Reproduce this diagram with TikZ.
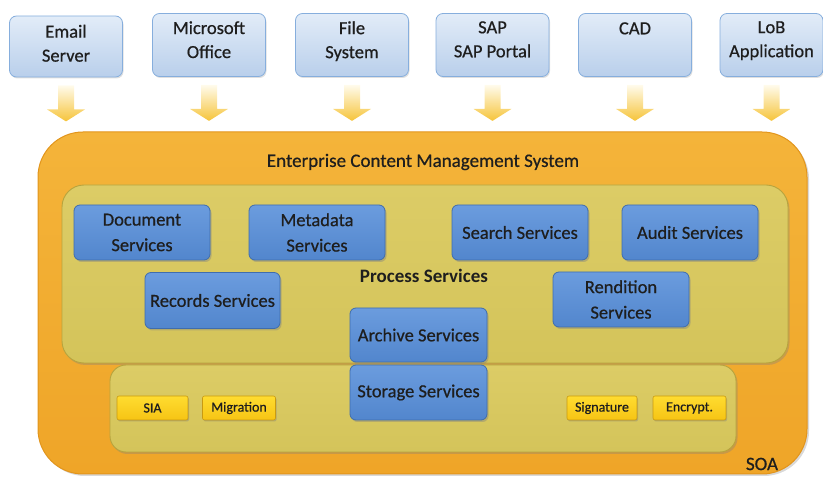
\documentclass[tikz,border=0pt]{standalone}
\usepackage{fontspec}
\setmainfont{Carlito}[UprightFeatures={FakeBold=0.6}]
\usetikzlibrary{shadows,calc}

\definecolor{srctop}{HTML}{E2ECF8}
\definecolor{srcbot}{HTML}{B9CFEB}
\definecolor{srcline}{HTML}{86AEDD}
\definecolor{arrtop}{HTML}{FFFBEC}
\definecolor{arrbot}{HTML}{F6C43A}
\definecolor{ecmfill}{HTML}{EFA528}
\definecolor{ecmtop}{HTML}{F4B43A}
\definecolor{ecmline}{HTML}{E2951C}
\definecolor{panelfill}{HTML}{D4C45A}
\definecolor{paneltop}{HTML}{DCCC66}
\definecolor{panelline}{HTML}{B7A43E}
\definecolor{svctop}{HTML}{6B9CDE}
\definecolor{svcbot}{HTML}{5286CD}
\definecolor{svcline}{HTML}{3F6DAE}
\definecolor{tooltop}{HTML}{FFDC30}
\definecolor{toolbot}{HTML}{F6C414}
\definecolor{toolline}{HTML}{C99A10}
\definecolor{ink}{HTML}{1E1E1E}

\newcommand{\ecmarrow}[1]{%
  \shade[top color=arrtop, bottom color=arrbot]
    ($(#1.south)+(-8,8)$) -- ($(#1.south)+(8,8)$) -- ($(#1.south)+(8,32)$)
    -- ($(#1.south)+(19,32)$) -- ($(#1.south)+(0,44)$) -- ($(#1.south)+(-19,32)$)
    -- ($(#1.south)+(-8,32)$) -- cycle;}

\begin{document}
\begin{tikzpicture}[x=1pt,y=-1pt,
  every node/.style={text=ink},
  source/.style={draw=srcline, line width=0.8pt, rounded corners=7pt,
    top color=srctop, bottom color=srcbot, minimum width=113pt, minimum height=63pt,
    drop shadow={shadow xshift=1pt, shadow yshift=-1.5pt, opacity=0.25}},
  srclabel/.style={anchor=north, align=center, font=\fontsize{18.5}{24}\selectfont, inner sep=0pt},
  ecmbox/.style={draw=ecmline, line width=1pt, rounded corners=45pt,
    top color=ecmtop, bottom color=ecmfill, minimum width=769pt, minimum height=342pt,
    drop shadow={shadow xshift=2pt, shadow yshift=-2pt, opacity=0.3}},
  panel/.style={draw=panelline, line width=0.9pt, top color=paneltop, bottom color=panelfill,
    drop shadow={shadow xshift=1.5pt, shadow yshift=-2pt, opacity=0.35}},
  service/.style={draw=svcline, line width=0.8pt, rounded corners=6pt,
    top color=svctop, bottom color=svcbot, align=center,
    font=\fontsize{18.5}{25.5}\selectfont, minimum width=136pt, minimum height=55pt,
    drop shadow={shadow xshift=1.5pt, shadow yshift=-2pt, opacity=0.4}},
  tool/.style={draw=toolline, line width=0.6pt, rounded corners=2pt,
    top color=tooltop, bottom color=toolbot, font=\fontsize{14}{16}\selectfont,
    minimum height=24pt, inner sep=0pt,
    drop shadow={shadow xshift=1pt, shadow yshift=-1.5pt, opacity=0.4}}
]
\useasboundingbox (0,0) rectangle (823,478);

% source systems along the top
\node[source, minimum height=61pt] (email) at (66,46.5) {};
\node[source] (office) at (209,45) {};
\node[source] (files)  at (352,45) {};
\node[source] (sap)    at (492.5,45) {};
\node[source] (cad)    at (635,45) {};
\node[source, minimum width=103pt] (lob) at (771.5,45) {};

\node[srclabel] (emailtxt)  at ($(email.north)+(0,9)$)  {Email\\Server};
\node[srclabel] (officetxt) at ($(office.north)+(0,8)$) {Microsoft\\Office};
\node[srclabel] (filestxt)  at ($(files.north)+(0,8)$)  {File\\System};
\node[srclabel] (saptxt)    at ($(sap.north)+(0,8)$)    {SAP\\SAP Portal};
\node[srclabel] (cadtxt)    at ($(cad.north)+(0,9)$)    {CAD};
\node[srclabel] (lobtxt)    at ($(lob.north)+(0,8)$)    {LoB\\Application};

% feed arrows into the content management system
\ecmarrow{email}
\ecmarrow{office}
\ecmarrow{files}
\ecmarrow{sap}
\ecmarrow{cad}
\ecmarrow{lob}

% enterprise content management system
\node[ecmbox] (ecm) at (422.5,303) {};
\node[font=\fontsize{19}{22}\selectfont] (ecmtitle) at (423,162) {Enterprise Content Management System};

% process services layer
\node[panel, rounded corners=22pt, minimum width=726pt, minimum height=178pt] (process) at (425,274) {};
% storage layer
\node[panel, rounded corners=16pt, minimum width=626pt, minimum height=87pt] (storagepanel) at (423,408.5) {};

\node[font=\bfseries\fontsize{19}{22}\selectfont] (proclabel) at (424,276) {Process Services};

% services
\node[service] (doc)       at (142,232.5)   {Document\\Services};
\node[service] (meta)      at (317,232.5)   {Metadata\\Services};
\node[service] (search)    at (520,232.5)   {Search Services};
\node[service] (audit)     at (690,232.5)   {Audit Services};
\node[service, minimum width=135pt, minimum height=56pt] (records) at (212.5,300.5) {Records Services};
\node[service] (rendition) at (621,299.5)   {Rendition\\Services};
\node[service, minimum width=137pt, minimum height=54pt] (archive) at (418.5,335) {Archive Services};
\node[service, minimum width=137pt] (storage) at (418.5,392.5) {Storage Services};

% storage tools
\node[tool, minimum width=71pt] (sia)       at (152.5,408) {SIA};
\node[tool, minimum width=73pt] (migration) at (239,408)   {Migration};
\node[tool, minimum width=70pt] (signature) at (602,408)   {Signature};
\node[tool, minimum width=73pt] (encrypt)   at (689.5,408) {Encrypt.};

\node[font=\fontsize{19}{22}\selectfont] (soa) at (762,464) {SOA};
\end{tikzpicture}
\end{document}
